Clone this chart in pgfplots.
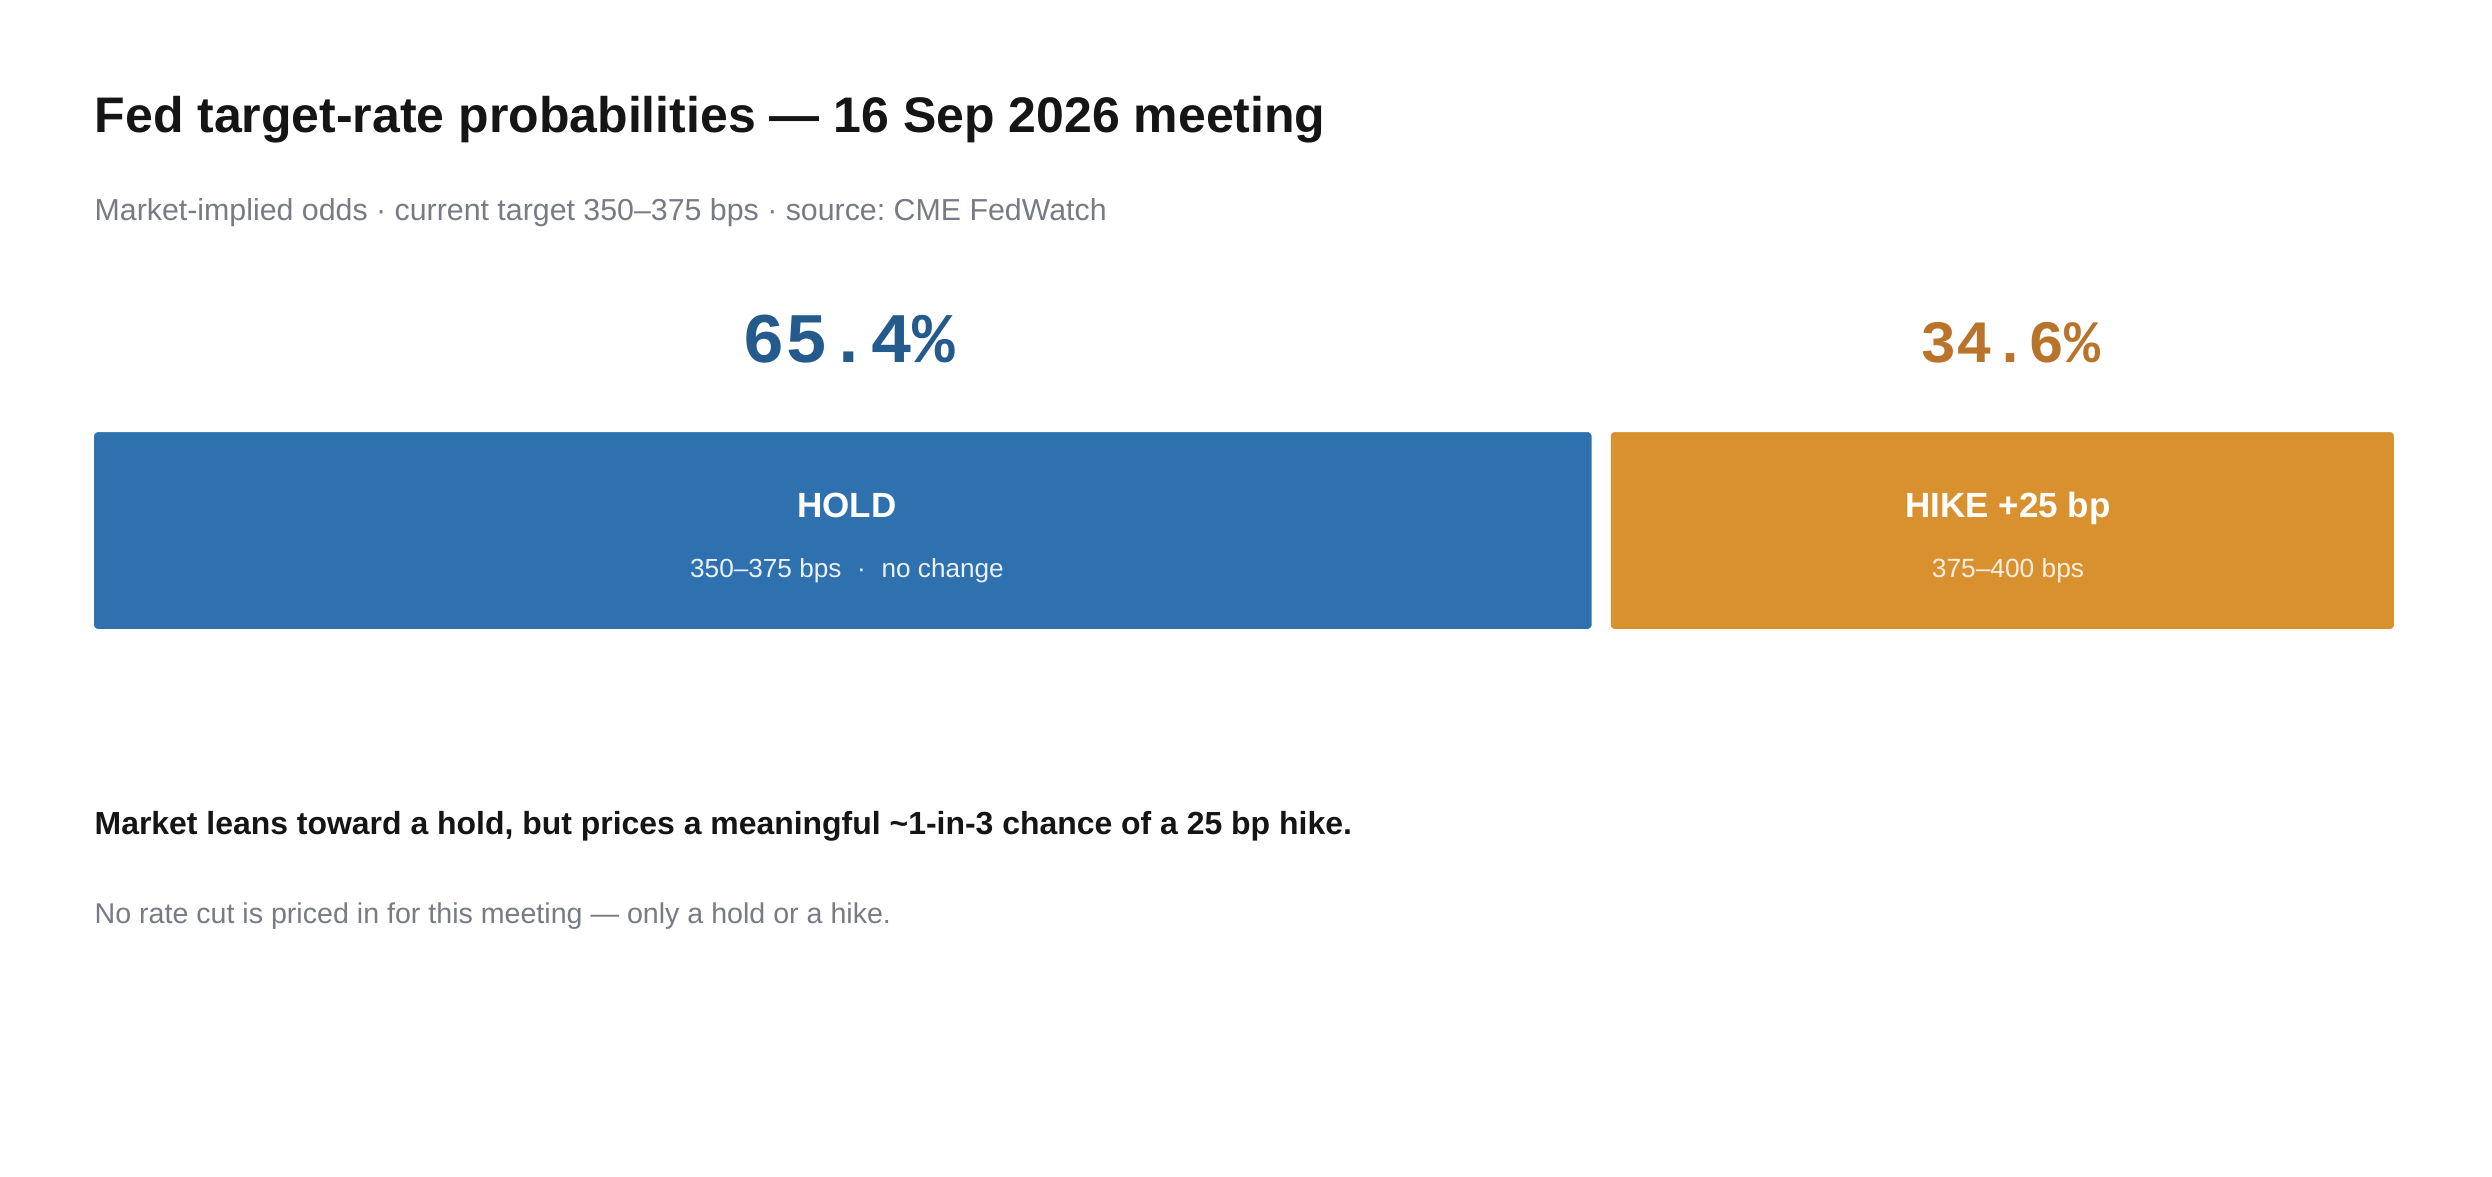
\documentclass[border=0pt]{standalone}
\usepackage{pgfplots}
\pgfplotsset{compat=1.18}
\usepackage{fontspec}
\setmainfont{Liberation Sans}
\newfontfamily\mono{Liberation Mono}
\frenchspacing
\definecolor{holdbar}{HTML}{2F70AF}
\definecolor{hikebar}{HTML}{D99130}
\definecolor{holdtxt}{HTML}{245A8C}
\definecolor{hiketxt}{HTML}{B8742A}
\definecolor{titlec}{HTML}{151515}
\definecolor{graytxt}{HTML}{767B85}
\newcommand{\fs}[1]{\fontsize{#1}{#1}\selectfont}

\begin{document}
\begin{tikzpicture}
% text in image pixels, y down, 1px = 0.3pt
\begin{scope}[x=0.3pt,y=-0.3pt]
\path[use as bounding box] (0,0) rectangle (2492,1176);
\node[anchor=base west,inner sep=0,text=titlec,font=\fs{15}\bfseries] at (94,132)
  {Fed target-rate probabilities — 16 Sep 2026 meeting};
\node[anchor=base west,inner sep=0,text=graytxt,font=\fs{9.1}] at (94,220)
  {Market-implied odds · current target 350–375 bps · source: CME FedWatch};
\node[anchor=base west,inner sep=0,text=titlec,font=\fs{9.58}\bfseries] at (94,834)
  {Market leans toward a hold, but prices a meaningful \textasciitilde1-in-3 chance of a 25 bp hike.};
\node[anchor=base west,inner sep=0,text=graytxt,font=\fs{8.58}] at (94,923)
  {No rate cut is priced in for this meeting — only a hold or a hike.};
\end{scope}

\begin{axis}[
    at={(25.35pt,-191.55pt)}, anchor=south west,
    scale only axis, width=695.7pt, height=64.8pt,
    xmin=0, xmax=100, ymin=-0.5, ymax=0.5,
    xbar stacked, bar width=1,
    hide axis, clip=false,
]
\addplot[fill=holdbar, draw=white, line width=5.7pt, rounded corners=4pt] coordinates {(65.4,0)};
\addplot[fill=hikebar, draw=white, line width=5.7pt, rounded corners=4pt] coordinates {(34.6,0)};
\end{axis}

% labels over the bars
\begin{scope}[x=0.3pt,y=-0.3pt]
\node[anchor=base,inner sep=0,text=holdtxt,font=\mono\fs{21.3}\bfseries] at (849,362) {65.4\%};
\node[anchor=base,inner sep=0,text=hiketxt,font=\mono\fs{18}\bfseries] at (2010,362) {34.6\%};
\node[anchor=base,inner sep=0,text=white,font=\fs{10.5}\bfseries] at (847,517) {HOLD};
\node[anchor=base,inner sep=0,text=white!90!holdbar,font=\fs{7.85}] at (847,577)
  {350–375 bps\hspace{0.6em}·\hspace{0.6em}no change};
\node[anchor=base,inner sep=0,text=white,font=\fs{10.5}\bfseries] at (2008,517) {HIKE +25 bp};
\node[anchor=base,inner sep=0,text=white!85!hikebar,font=\fs{7.9}] at (2008,577)
  {375–400 bps};
\end{scope}
\end{tikzpicture}
\end{document}
